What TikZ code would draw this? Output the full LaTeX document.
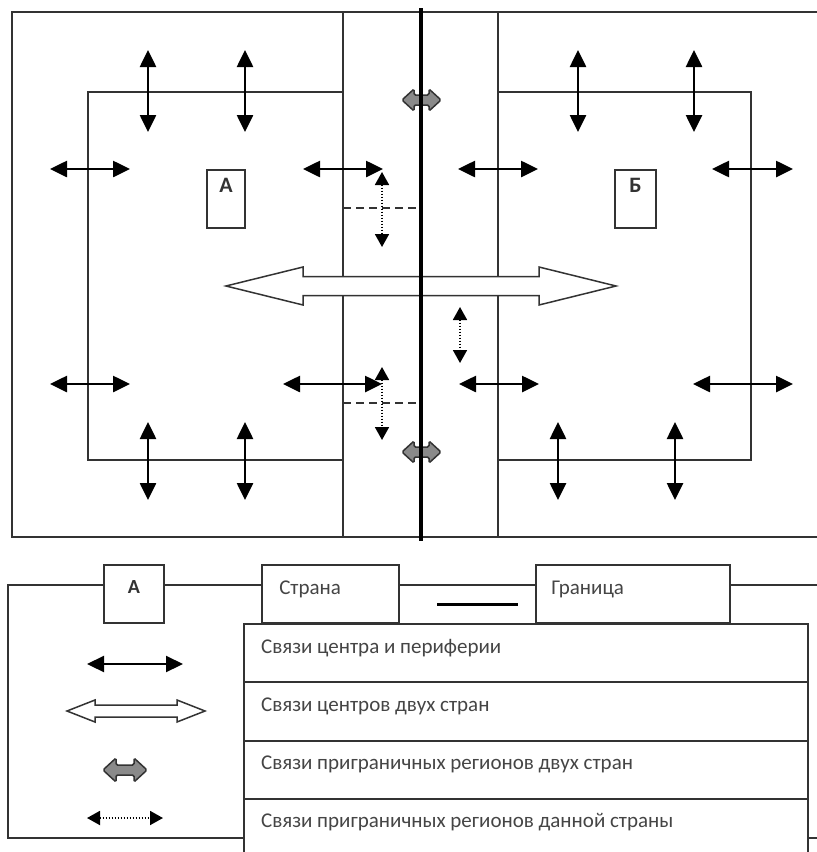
\documentclass[tikz,border=0pt]{standalone}
\usepackage{fontspec}
\setmainfont{Carlito}
\usetikzlibrary{arrows.meta}
\definecolor{ink}{HTML}{333333}
\definecolor{txt}{HTML}{454545}
\definecolor{fatgrey}{HTML}{8A8A8A}
\newcommand{\fatlink}[7][]{%
  \draw[#1] (#2, #4) -- ({#2+#7}, {#4-#6}) -- ({#2+#7}, {#4-#5})
    -- ({#3-#7}, {#4-#5}) -- ({#3-#7}, {#4-#6}) -- (#3, #4)
    -- ({#3-#7}, {#4+#6}) -- ({#3-#7}, {#4+#5}) -- ({#2+#7}, {#4+#5})
    -- ({#2+#7}, {#4+#6}) -- cycle;}
\begin{document}
\begin{tikzpicture}[x = 1pt, y = -1pt,
    frame/.style = {draw = ink, line width = 1.9pt},
    border/.style = {draw = black, line width = 4pt},
    link/.style = {line width = 2.6pt,
      {Triangle[length = 17pt, width = 16pt]}-{Triangle[length = 17pt, width = 16pt]}},
    dotlink/.style = {line width = 1.8pt, dash pattern = on 1.6pt off 1.4pt,
      {Triangle[length = 13pt, width = 14pt]}-{Triangle[length = 13pt, width = 14pt]}},
    dashline/.style = {draw = ink, line width = 1.9pt, dash pattern = on 8pt off 5pt},
    bigfat/.style = {draw = ink, line width = 1.5pt, fill = white, line join = miter},
    greyfat/.style = {draw = ink, line width = 1.5pt, fill = fatgrey, rounded corners = 1.5pt},
    cbox/.style = {draw = ink, line width = 1.9pt, fill = white, inner sep = 0pt},
    word/.style = {text = txt, inner sep = 0pt, font = \fontsize{21}{25}\selectfont},
    letter/.style = {text = ink, inner sep = 0pt, font = \fontsize{22}{26}\selectfont\bfseries}]
  \useasboundingbox (0, 0) rectangle (817, 852);
  \clip (0, 0) rectangle (817, 852);

  \draw[frame] (12, 12) rectangle (840, 537);
  \draw[frame] (343, 12) -- (343, 537)
               (498, 12) -- (498, 537);
  \draw[frame] (343, 92) -| (88, 460) -- (343, 460);
  \draw[frame] (498, 92) -| (751, 460) -- (498, 460);
  \draw[dashline] (343, 208) -- (421, 208)
                  (343, 403) -- (421, 403);

  \node[cbox, minimum width = 38pt, minimum height = 58pt] (ca) at (226, 199) {};
  \node[letter, anchor = base] at ([yshift = -23pt]ca.north) {А};
  \node[cbox, minimum width = 41pt, minimum height = 58pt] (cb) at (635.5, 199) {};
  \node[letter, anchor = base] at ([yshift = -23pt]cb.north) {Б};

  \foreach \x in {148, 245, 578, 694}
    \draw[link] (\x, 50) -- (\x, 132);
  \foreach \x in {148, 245, 558, 675}
    \draw[link] (\x, 422) -- (\x, 500);
  \foreach \a/\b in {50/130, 303/383, 458/538, 712/793}
    \draw[link] (\a, 169) -- (\b, 169);
  \foreach \a/\b in {50/130, 283/382, 459/539, 693/793}
    \draw[link] (\a, 384) -- (\b, 384);

  \draw[dotlink] (382, 172) -- (382, 247);
  \draw[dotlink] (382, 367) -- (382, 440);
  \draw[dotlink] (460, 307) -- (460, 363);

  \fatlink[bigfat]{226}{616}{286}{9.5}{19}{77}
  \fatlink[greyfat]{402}{441}{100}{5}{11}{12}
  \fatlink[greyfat]{402}{441}{452}{5}{11}{12}
  \draw[border] (421, 8) -- (421, 541);

  \draw[frame] (8, 585) rectangle (840, 838);
  \node[cbox, minimum width = 60pt, minimum height = 58pt] (la) at (134, 594) {};
  \node[letter, anchor = base, font = \fontsize{20}{24}\selectfont\bfseries]
    at ([yshift = -29pt]la.north) {А};
  \node[cbox, minimum width = 137pt, minimum height = 58pt] (ls) at (330.5, 594) {};
  \node[word, anchor = base west] at ([xshift = 18pt, yshift = -30pt]ls.north west) {Страна};
  \node[cbox, minimum width = 194pt, minimum height = 58pt] (lg) at (633, 594) {};
  \node[word, anchor = base west] at ([xshift = 16pt, yshift = -30pt]lg.north west) {Граница};
  \draw[line width = 3pt] (437, 604) -- (518, 604);

  \foreach \t [count = \i] in {Связи центра и периферии,
                               Связи центров двух стран,
                               Связи приграничных регионов двух стран,
                               Связи приграничных регионов данной страны} {
    \node[cbox, anchor = north west, minimum width = 564pt, minimum height = 58.3pt]
      (r\i) at (243, {623 + 58.3*(\i - 1)}) {};
    \node[word, anchor = base west] at ([xshift = 18pt, yshift = -30pt]r\i.north west) {\t};
  }

  \draw[link, line width = 2.2pt] (87, 664) -- (183, 664);
  \fatlink[bigfat]{67}{205}{711}{6}{11}{28}
  \fatlink[greyfat]{103}{147}{770}{5}{12}{13}
  \draw[dotlink] (87, 818) -- (163, 818);
\end{tikzpicture}
\end{document}
